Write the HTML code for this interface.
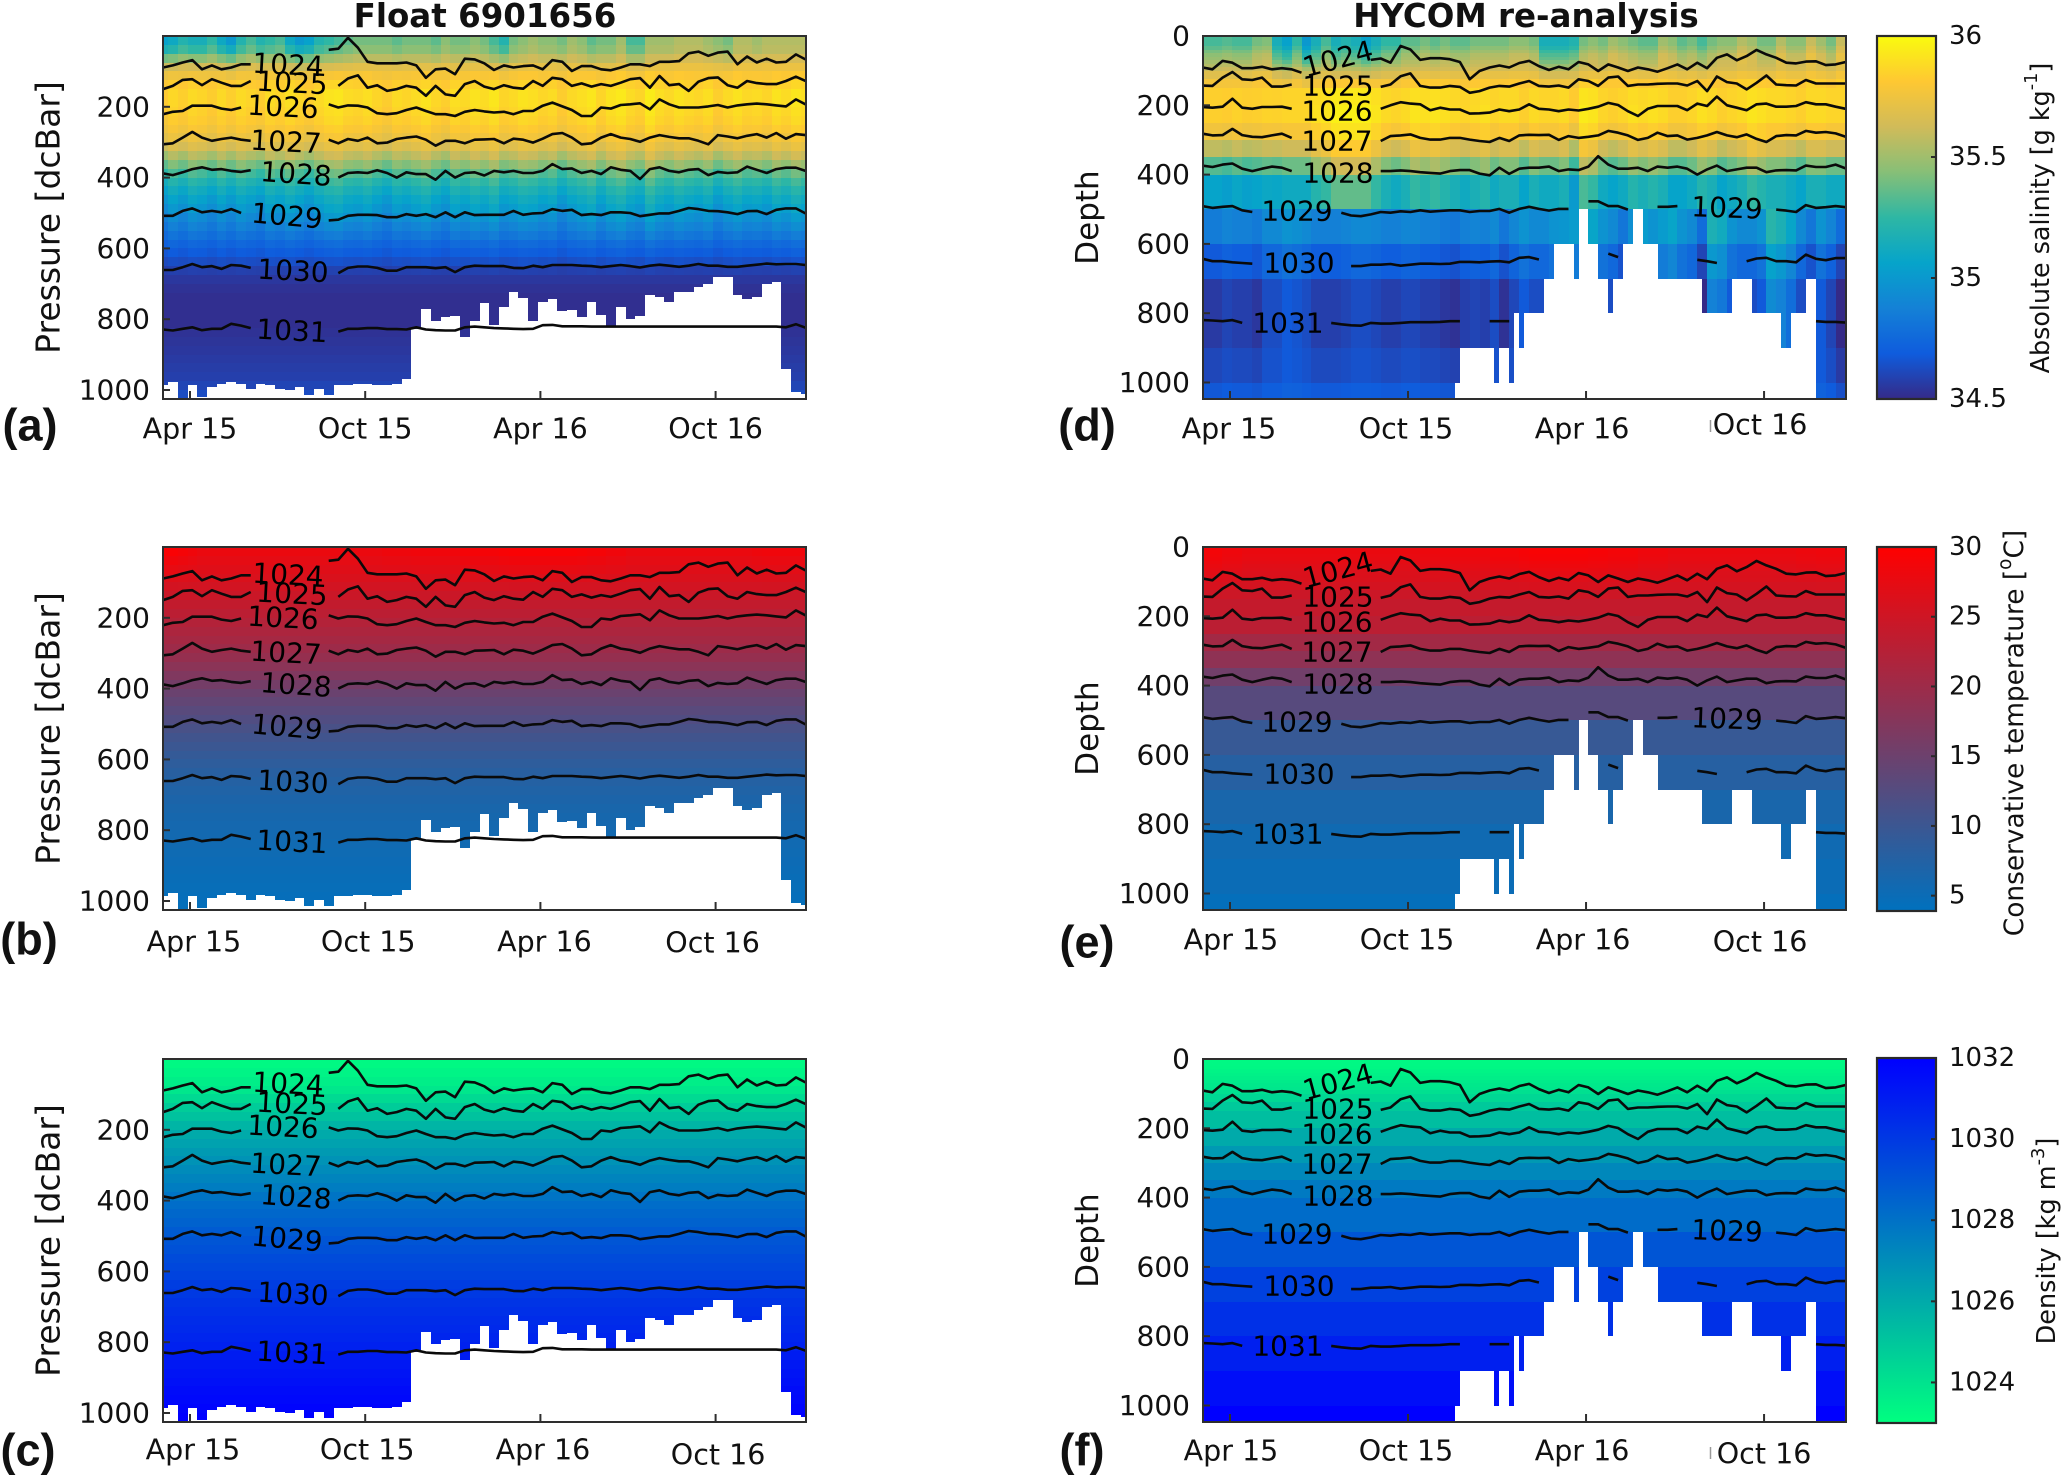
<!DOCTYPE html>
<html lang="en">
<head>
<meta charset="utf-8">
<title>Float 6901656 vs HYCOM re-analysis</title>
<style>
html,body{margin:0;padding:0;background:#fff;width:2067px;height:1475px;overflow:hidden}
svg{display:block}
text{font-family:"DejaVu Sans","Liberation Sans",sans-serif;fill:#111}
.cell{shape-rendering:crispEdges}
.big{font-family:"Liberation Sans","DejaVu Sans",sans-serif;font-weight:bold}
</style>
</head>
<body>
<svg id="fig" xmlns="http://www.w3.org/2000/svg" width="2067" height="1475" viewBox="0 0 2067 1475"></svg>
<script>
const _ = null;

/* ---------- time axis ---------- */
const sampleMonths = [-0.92,-0.59,-0.25,0.08,0.41,0.75,1.08,1.41,1.75,2.08,2.41,2.75,3.08,3.41,3.75,4.08,4.41,4.75,5.08,5.41,5.75,6.08,6.41,6.75,7.08,7.41,7.75,8.08,8.41,8.75,9.08,9.41,9.75,10.08,10.41,10.75,11.08,11.41,11.75,12.08,12.41,12.75,13.08,13.41,13.75,14.08,14.41,14.75,15.08,15.41,15.75,16.08,16.41,16.75,17.08,17.41,17.75,18.08,18.41,18.75,19.08,19.41,19.75,20.08,20.41,20.75,21.08];
const xTickMonths = [0,6,12,18];
const xTickLabels = ["Apr 15","Oct 15","Apr 16","Oct 16"];
const contourLevels = [1024,1025,1026,1027,1028,1029,1030,1031];

/* ---------- isopycnal depths: float (dbar) ---------- */
const floatIso1024 = [89,83,75,68,94,83,94,89,80,80,_,_,_,_,_,_,_,39,36,5,33,73,77,77,77,75,83,118,94,92,108,64,66,77,96,83,89,85,83,94,68,73,99,85,85,94,97,89,80,80,85,73,73,71,49,44,56,47,44,80,58,75,64,75,73,52,66];
const floatIso1025 = [150,141,124,122,139,122,132,141,141,127,_,_,_,_,_,_,_,_,141,120,111,146,139,155,150,141,146,169,141,165,169,136,127,143,150,139,146,149,127,141,118,122,141,134,143,136,141,132,122,119,146,113,139,136,155,129,119,117,139,146,127,133,136,136,127,115,127];
const floatIso1026 = [221,214,212,197,197,197,205,209,202,_,_,_,_,_,_,_,_,193,202,196,197,202,218,221,218,209,202,212,221,221,226,214,209,213,216,214,221,212,212,197,188,199,209,226,226,202,205,195,193,190,207,179,193,202,202,202,199,195,202,196,193,191,193,196,199,179,193];
const floatIso1027 = [306,303,287,271,287,296,291,287,293,296,_,_,_,_,_,_,_,293,303,291,296,287,303,301,291,287,284,293,310,296,296,303,293,292,291,303,290,293,301,290,277,274,287,306,303,287,277,287,291,299,287,280,285,289,289,296,306,280,284,289,282,277,287,274,290,277,280];
const floatIso1028 = [388,393,385,376,371,378,376,381,384,379,_,_,_,_,_,_,_,_,400,387,385,387,379,387,400,385,390,390,406,381,400,387,385,394,381,385,381,387,387,381,362,376,374,387,381,390,371,378,381,404,376,371,381,385,378,376,393,384,387,385,369,378,387,376,372,372,381];
const floatIso1029 = [508,508,494,487,498,494,498,489,500,_,_,_,_,_,_,_,_,521,519,508,505,505,506,512,512,503,508,503,512,498,512,498,506,505,505,505,494,505,501,500,489,494,491,506,503,506,498,498,500,509,505,501,501,494,486,489,494,495,498,503,495,494,503,491,487,487,501];
const floatIso1030 = [661,661,653,644,653,650,658,647,649,655,_,_,_,_,_,_,_,_,670,655,651,651,655,663,663,653,653,653,656,653,667,653,649,650,650,650,655,656,649,653,647,647,647,649,650,653,650,647,650,654,649,646,649,652,649,644,649,649,652,652,649,646,643,645,644,644,647];
const floatIso1031 = [829,832,827,823,831,827,827,813,818,825,_,_,_,_,_,_,_,_,835,827,827,825,825,828,828,829,823,829,831,832,832,823,821,823,825,826,827,828,827,817,816,820,820,820,821,821,821,821,821,821,821,821,821,821,821,821,821,821,821,821,821,821,821,821,823,814,824];
const floatIsopycnals = [floatIso1024,floatIso1025,floatIso1026,floatIso1027,floatIso1028,floatIso1029,floatIso1030,floatIso1031];

/* ---------- isopycnal depths: HYCOM (m) ---------- */
const hycomIso1024 = [91,96,72,77,93,93,89,96,93,96,106,_,_,_,_,_,_,69,65,77,29,39,69,64,64,67,75,125,101,91,85,91,78,72,87,98,89,96,75,82,101,82,91,101,91,96,103,93,82,96,77,93,63,53,70,58,40,53,63,77,79,74,73,84,82,75];
const hycomIso1025 = [143,144,120,104,125,127,120,146,146,140,_,_,_,_,_,_,_,_,147,140,116,108,144,149,149,144,147,164,159,149,144,146,137,130,144,146,143,149,125,130,144,120,117,144,140,140,138,137,137,143,130,159,117,133,137,154,135,114,140,142,143,127,137,137,137,137];
const hycomIso1026 = [205,207,204,181,207,210,205,205,204,210,_,_,_,_,_,_,_,_,210,200,191,195,197,214,207,212,212,224,223,221,212,217,212,197,210,212,217,212,215,210,204,193,199,217,231,210,202,202,202,214,195,202,175,200,207,214,197,195,204,204,202,191,197,197,204,210];
const hycomIso1027 = [282,287,286,268,286,291,292,287,282,294,_,_,_,_,_,_,_,_,303,289,287,284,294,299,299,294,294,299,303,306,294,303,287,285,286,285,300,289,294,291,287,274,279,287,300,294,279,289,287,299,294,287,277,287,292,284,297,306,289,286,287,274,279,277,281,291];
const hycomIso1028 = [374,378,371,368,383,390,383,377,380,390,_,_,_,_,_,_,_,_,390,390,388,390,393,395,397,390,387,387,397,402,380,398,383,380,380,377,390,385,387,377,347,371,383,383,380,390,377,380,377,383,400,385,374,390,385,380,380,393,388,387,388,374,378,378,371,382];
const hycomIso1029 = [491,496,493,491,503,508,_,_,_,_,_,_,_,_,510,518,520,515,508,510,506,508,503,507,505,503,503,508,505,505,499,510,499,493,499,504,499,499,_,477,477,491,491,501,_,_,493,493,491,_,_,_,_,_,_,_,_,_,501,504,508,488,496,494,491,494];
const hycomIso1030 = [643,650,650,653,655,657,_,_,_,_,_,_,_,_,_,664,664,660,660,658,663,660,657,657,658,657,652,652,653,651,650,653,640,638,645,_,_,_,_,_,_,628,638,_,_,_,_,_,_,_,646,650,655,_,_,650,642,640,650,650,653,631,643,647,641,641];
const hycomIso1031 = [820,821,823,820,828,_,_,_,_,_,_,_,_,828,832,835,836,828,830,830,828,826,826,826,825,823,823,_,_,823,823,823,_,_,_,_,_,_,_,_,_,_,_,_,_,_,_,_,_,_,_,_,_,_,_,_,_,_,_,_,_,_,823,825,825,827];
const hycomIsopycnals = [hycomIso1024,hycomIso1025,hycomIso1026,hycomIso1027,hycomIso1028,hycomIso1029,hycomIso1030,hycomIso1031];

/* ---------- float heatmap: vertical profiles ---------- */
const floatDepthLevels = [0,25,50,75,100,125,150,175,200,225,250,275,300,325,350,375,400,425,450,475,500,525,550,575,600,625,650,675,700,725,750,775,800,825,850,875,900,925,950,975,1000,1025];
const floatSalinityProfile = [35.5,35.53,35.62,35.72,35.78,35.82,35.85,35.85,35.83,35.81,35.77,35.72,35.65,35.53,35.4,35.28,35.18,35.1,35.03,34.97,34.91,34.85,34.79,34.73,34.68,34.63,34.58,34.55,34.53,34.52,34.52,34.52,34.52,34.53,34.54,34.55,34.56,34.57,34.58,34.6,34.63,34.67];
const floatTemperatureProfile = [29.5,28.5,27.5,26.5,25.5,24.6,23.8,23,22.2,21.5,20.8,20,19.2,18.1,17,15.8,14.8,13.9,13,12.2,11.4,10.6,9.9,9.2,8.6,8,7.6,7.2,6.8,6.5,6.2,6,5.8,5.6,5.4,5.2,5,4.8,4.7,4.5,4.4,4.3];
const floatDensityProfile = [1023.2,1023.4,1023.6,1023.85,1024.3,1024.8,1025.15,1025.6,1026,1026.3,1026.55,1026.8,1027.1,1027.35,1027.6,1027.9,1028.15,1028.35,1028.55,1028.8,1029,1029.15,1029.35,1029.5,1029.65,1029.85,1030,1030.15,1030.3,1030.45,1030.55,1030.7,1030.85,1031,1031.15,1031.3,1031.45,1031.6,1031.7,1031.85,1032,1032];
const floatUpperWeight = [1,0.8,0.5,0.25,0.1];
const floatMidWeight = [0,0,0,0,0.3,0.4,0.6,0.6,0.6,0.6,0.6,0.6,0.7,0.9,1,1,1,1,1,1,0.9,0.8,0.6,0.4,0.3,0.2,0.1];

/* ---------- float heatmap: per-profile anomalies ---------- */
const floatUpperSalinityAnomaly = [-0.45,-0.4,-0.3,-0.35,-0.35,-0.25,-0.4,-0.5,-0.3,-0.2,-0.3,-0.25,-0.2,-0.4,-0.5,-0.45,-0.3,-0.25,-0.2,-0.15,-0.1,-0.1,-0.1,-0.1,-0.15,-0.1,-0.1,-0.1,-0.15,-0.05,-0.1,-0.1,-0.05,-0.1,-0.2,-0.3,-0.1,-0.05,0,-0.05,-0.05,-0.1,0,-0.05,-0.15,-0.1,-0.1,0,-0.2,-0.2,0,0,0,0.05,0.05,0.05,0,-0.05,-0.1,0.05,0.05,0,0.05,0.05,0.05,0.05,0.05];
const floatMidSalinityAnomaly = [-0.05,0.03,-0.02,0.05,0.02,-0.03,0.04,-0.02,0.05,0.01,-0.03,0.06,0.02,0.08,0.03,-0.02,0.05,0.1,0.12,0.06,0.04,0.08,0.02,-0.03,0.05,0.02,0.06,0.1,0.03,-0.02,0.08,0.04,0.1,0.06,0.12,0.02,0.05,0.1,0.08,0.03,0.06,-0.03,0.04,0.08,0.12,0.02,0.1,0.14,0.06,0.02,0.16,0.08,0.04,0.1,0.06,0.03,0.08,-0.02,0.05,0.1,0.04,0.06,0.02,0.1,0.06,0.12,0.08];
const floatSurfaceTempAnomaly = [0,0,-0.5,-1,-1.5,-1.5,-1.5,-1.5,-1.5,-1.5,-1.5,-1.5,-1.5,-1.5,-1.5,-1.5,-1.5,-1.5,-1.5,-1.5,-1.5,-1.5,-1.5,-1.2,-1.2,-1.2,-1,-1,-1,-1,-1,-0.5,-0.5,-0.5,-0.5,-0.2,0,0,0,0,0,0,0,-0.2,-0.5,-0.5,-1,-1,-1.5,-1.5,-1.5,-1.5,-1.5,-1.5,-1.5,-1.5,-1.5,-1.5,-1.5,-1.5,-1.5,-1.2,-1,-1,-1,-1,-1];
const floatBottomDepth = [987,978,1026,987,1020,992,983,978,983,996,983,987,996,1001,992,1015,996,1015,987,987,983,983,987,987,983,968,827,771,804,794,791,851,804,755,816,766,724,740,804,752,743,776,773,794,752,788,820,766,799,790,733,738,750,724,724,710,700,682,682,733,743,736,700,696,940,1006,1010];

/* ---------- HYCOM heatmap: vertical profiles ---------- */
const hycomDepthLevels = [0,10,20,30,40,50,60,70,80,90,100,125,150,200,250,300,350,400,500,600,700,800,900,1000];
const hycomSalinityProfile = [35.35,35.35,35.35,35.4,35.45,35.5,35.52,35.55,35.58,35.62,35.7,35.78,35.84,35.84,35.76,35.58,35.33,35.06,34.87,34.7,34.58,34.58,34.62,34.68];
const hycomTemperatureProfile = [29.5,29.4,29.2,29,28.6,28.2,27.8,27.4,27,26.6,26,25,24,23,20.5,18.5,15.5,12.8,9.5,7.8,6.5,5.5,5,4.3];
const hycomDensityProfile = [1023.2,1023.25,1023.3,1023.4,1023.5,1023.6,1023.7,1023.8,1023.9,1024.1,1024.4,1024.9,1025.3,1026,1026.6,1027.2,1027.7,1028.2,1029,1029.7,1030.3,1030.9,1031.5,1032];
const hycomUpperWeight = [1,1,1,1,0.9,0.9,0.8,0.7,0.5,0.3,0.3,0.2];
const hycomMidWeight = [0,0,0,0,0,0,0,0,0,0,0,0.2,0.3,0.4,0.5,0.8,1,1];
const hycomDeepWeight = [0,0,0,0,0,0,0,0,0,0,0,0,0,0,0,0,0,0,1,1,1,1,0.6,0.4];

/* ---------- HYCOM heatmap: per-time anomalies ---------- */
const hycomUpperSalinityAnomaly = [-0.05,-0.05,-0.02,-0.05,-0.05,0.05,0.08,-0.2,-0.3,-0.1,-0.35,-0.2,-0.05,-0.2,-0.15,-0.2,-0.3,-0.2,-0.1,-0.1,0,0,0.05,0,0.05,0,0,0.05,0.05,0.05,0.05,0.1,0.1,0.05,-0.2,-0.2,-0.2,-0.15,0.05,0.1,0.05,0.15,0.1,0.05,0,0,0.15,0.1,0,0.05,-0.05,0.05,0.1,0.1,0.2,0.15,0.05,0.05,0.2,0.1,0.1,0.25,0.15,0.05,0.25,0.2];
const hycomMidSalinityAnomaly = [0,0,-0.03,0.02,-0.02,0,0.03,0.02,0.05,0.05,0.05,0.15,0.2,0.3,0.3,0.3,0.3,0.2,0.1,0.05,0.1,0.2,0.15,0.2,0.15,0.1,0.05,0.1,0.15,0.05,0.1,0.1,0,0.1,0.05,0.05,0.1,-0.05,0.25,0.2,0.05,0,0.05,0.15,0.1,0.15,0.1,0,0,0.05,0.15,0.1,0,0.05,0.1,0.2,0.15,0.1,0.1,0.05,0,0.1,0.1,0.05,0.05,0.15];
const hycomDeepSalinityAnomaly = [-0.02,-0.02,0.02,0,0,-0.03,0.05,0.05,0.1,0.08,0.05,0,0,0,0.02,0.05,0.05,0.03,0,0,0.03,0.03,0,0,-0.03,-0.05,0,0.02,0,0.05,-0.05,0.03,0.1,0.05,0.05,0.1,0.12,0.15,0.2,0.2,0.1,0.05,-0.05,0.08,0.15,0.1,0.15,0.2,0.1,0.05,-0.1,0.3,0.25,0.1,0.05,0.05,0.1,0.35,0.3,0.2,0.05,-0.05,0.1,0.02,-0.1,0];
const hycomSurfaceTempAnomaly = [-0.5,-0.5,-1,-1,-1.5,-1.5,-1.5,-1.5,-1.5,-1.5,-1.5,-1.5,-1.5,-1.5,-1.5,-1.5,-1.5,-1.5,-1.5,-1.5,-1.5,-1.5,-1.2,-1.2,-1,-1,-1,-1,-1,-0.5,-0.5,-0.5,-0.2,0,0,0,0,0,0,-0.2,-0.2,-0.5,-0.5,-0.5,-1,-1,-1,-1.5,-1.5,-1.5,-1.5,-1.5,-1.5,-1.5,-1.5,-1.5,-1.5,-1.5,-1.5,-1.5,-1.2,-1.2,-1,-1,-1,-1];
const hycomBottomDepth = [1050,1050,1050,1050,1050,1050,1050,1050,1050,1050,1050,1050,1050,1050,1050,1050,1050,1050,1050,1050,1050,1050,1050,1050,1050,1050,1050,1050,1050,1050,1050,1050,1050,1050,1050,1050,1050,1050,1050,1050,1050,1050,1050,1050,1050,1050,1050,1050,1050,1050,1050,1000,900,900,900,900,900,900,900,1000,900,900,1000,800,900,800,800,800,800,700,700,600,600,600,600,700,500,500,600,600,700,700,800,700,700,600,600,500,500,600,600,600,700,700,700,700,700,700,700,700,700,800,800,800,800,800,800,700,700,700,700,800,800,800,800,800,800,900,900,800,800,800,700,700,1050,1050,1050,1050,1050,1050,1050];

/* ---------- colour scales ---------- */
const parulaStops = ["#352a87","#0f5cdd","#1481d6","#06a4ca","#2eb7a4","#87bf77","#d1bb59","#fec832","#f9fb0e"];
const temperatureStops = ["#0071be","#ff0000"];
const densityStops = ["#00ff80","#0000ff"];
const salinityTicks = [34.5,35,35.5,36];
const salinityTickLabels = ["34.5","35","35.5","36"];
const temperatureTicks = [5,10,15,20,25,30];
const temperatureTickLabels = ["5","10","15","20","25","30"];
const densityTicks = [1024,1026,1028,1030,1032];
const densityTickLabels = ["1024","1026","1028","1030","1032"];

/* ---------- axis ticks ---------- */
const floatYTicks = [200,400,600,800,1000];
const hycomYTicks = [0,200,400,600,800,1000];

/* ---------- layout ---------- */
const svg = document.getElementById('fig');
const NS = 'http://www.w3.org/2000/svg';
function mk(tag, attrs, parent, txt){
  const e = document.createElementNS(NS, tag);
  for (const k in attrs) e.setAttribute(k, attrs[k]);
  if (txt !== undefined) e.textContent = txt;
  (parent || svg).appendChild(e);
  return e;
}
function xFloat(m){ return 190 + 29.2*m; }
function xHycom(m){ return 1230 + 29.67*m; }
function hex(c){ return [parseInt(c.slice(1,3),16),parseInt(c.slice(3,5),16),parseInt(c.slice(5,7),16)]; }
function colorFrom(stops, lo, hi, v){
  let t = (v-lo)/(hi-lo); t = Math.max(0,Math.min(1,t));
  const p = t*(stops.length-1), i = Math.min(stops.length-2,Math.floor(p)), f = p-i;
  const a = hex(stops[i]), b = hex(stops[i+1]);
  return 'rgb('+Math.round(a[0]+(b[0]-a[0])*f)+','+Math.round(a[1]+(b[1]-a[1])*f)+','+Math.round(a[2]+(b[2]-a[2])*f)+')';
}
const scales = {
  salinity:{stops:parulaStops,lo:34.5,hi:36},
  temperature:{stops:temperatureStops,lo:3.9,hi:30},
  density:{stops:densityStops,lo:1023,hi:1032}
};
function floatValue(field,i,k){
  if(field==='salinity') return floatSalinityProfile[i]+floatUpperSalinityAnomaly[k]*(floatUpperWeight[i]||0)+floatMidSalinityAnomaly[k]*(floatMidWeight[i]||0);
  if(field==='temperature') return floatTemperatureProfile[i]+floatSurfaceTempAnomaly[k]*(floatUpperWeight[i]||0);
  return floatDensityProfile[i];
}
function hycomValue(field,i,k){
  if(field==='salinity') return hycomSalinityProfile[i]+hycomUpperSalinityAnomaly[k]*(hycomUpperWeight[i]||0)+hycomMidSalinityAnomaly[k]*(hycomMidWeight[i]||0)+hycomDeepSalinityAnomaly[k]*(hycomDeepWeight[i]||0);
  if(field==='temperature') return hycomTemperatureProfile[i]+hycomSurfaceTempAnomaly[k]*(hycomUpperWeight[i]||0);
  return hycomDensityProfile[i];
}

const panels = [
 {id:'a',src:'float',field:'salinity',top:36,bottom:399,tag:[30,425],tl:[[0,429],[0,429],[0,429],[0,429]],labelDy:[0,0,0,0,0,0,0,0]},
 {id:'b',src:'float',field:'temperature',top:547,bottom:910,tag:[29,939],tl:[[4,942],[3,942],[4,942],[-3,943]],labelDy:[-1,0,0,0,0,0,0,0]},
 {id:'c',src:'float',field:'density',top:1059,bottom:1422,tag:[28,1450],tl:[[3,1450],[2,1450],[2.5,1450],[2.5,1455]],labelDy:[-4,-2,-3,0,0,0,0,-1]},
 {id:'d',src:'hycom',field:'salinity',top:36,bottom:399,tag:[1087,425],tl:[[-1,429],[-2,429],[-4,429],[-4,425]],labelDy:[0,0,0,0,0,0,0,0]},
 {id:'e',src:'hycom',field:'temperature',top:547,bottom:910,tag:[1087,942],tl:[[1,940],[-1,940],[-3,940],[-4,942]],labelDy:[0,0,0,0,0,0,0,0]},
 {id:'f',src:'hycom',field:'density',top:1059,bottom:1422,tag:[1082,1450],tl:[[1,1451],[-2,1451],[-4,1451],[0,1454]],labelDy:[0,0,0,0,0,0,0,0]}
];
const floatLabelPlaces = [[288,29,3],[292,47,3],[283,71,3],[286,106,3],[296,138,4],[287,180,5],[293,235,3],[292,295,3]];
const hycomLabelPlaces = [[1338,23,-15],[1338,50,0],[1337,75,0],[1337,105,0],[1338,137,0],[1297,175,0],[1299,227,0],[1288,287,0]];

const defs = mk('defs',{});

panels.forEach(function(p){
  const isFloat = p.src==='float';
  const left = isFloat ? 163 : 1203;
  const right = isFloat ? 806 : 1846;
  const xf = isFloat ? xFloat : xHycom;
  const yScale = isFloat ? 0.354 : 0.3465;
  const yf = function(d){ return p.top + d*yScale; };
  const axisMax = (p.bottom-p.top)/yScale;
  const sc = scales[p.field];

  const group = mk('g',{});
  
  

  const clip = mk('clipPath',{id:'clip-'+p.id},defs);
  mk('rect',{x:left,y:p.top,width:right-left,height:p.bottom-p.top},clip);

  const heat = mk('g',{'clip-path':'url(#clip-'+p.id+')'},group);
  
  

  const levels = isFloat ? floatDepthLevels : hycomDepthLevels;
  const bottoms = isFloat ? floatBottomDepth : hycomBottomDepth;
  const s = sampleMonths;
  bottoms.forEach(function(bd,c){
    let m0, m1, k;
    if(isFloat){
      m0 = c>0 ? (s[c-1]+s[c])/2 : s[c]-1/6;
      m1 = c<s.length-1 ? (s[c]+s[c+1])/2 : s[c]+1/6;
      k = c;
    } else {
      m0 = s[0]+c/6; m1 = s[0]+(c+1)/6; k = Math.min(65,Math.floor(c/2));
    }
    const x0 = Math.round(xf(m0)), x1 = Math.round(xf(m1));
    for(let i=0;i<levels.length;i++){
      if(levels[i]>=bd) break;
      const d1 = Math.min(i+1<levels.length?levels[i+1]:axisMax+5,bd);
      const y0 = Math.round(yf(levels[i])), y1 = Math.round(yf(d1));
      const v = isFloat ? floatValue(p.field,i,k) : hycomValue(p.field,i,k);
      const r = mk('rect',{class:'cell',x:x0,y:y0,width:x1-x0,height:y1-y0,fill:colorFrom(sc.stops,sc.lo,sc.hi,v)},heat);
      
      
    }
  });

  const isos = isFloat ? floatIsopycnals : hycomIsopycnals;
  const lines = mk('g',{'clip-path':'url(#clip-'+p.id+')',fill:'none',stroke:'#0a0a0a','stroke-width':2.6,'stroke-linejoin':'round'},group);
  isos.forEach(function(series,j){
    let seg = [];
    const flush = function(){
      if(seg.length>1){
        const l = mk('polyline',{points:seg.join(' ')},lines);
        
        
      }
      seg = [];
    };
    series.forEach(function(d,k){
      if(d===null){ flush(); return; }
      seg.push(xf(sampleMonths[k]).toFixed(1)+','+yf(d).toFixed(1));
    });
    flush();
  });

  const places = isFloat ? floatLabelPlaces : hycomLabelPlaces;
  contourLevels.forEach(function(lv,j){
    const pl = places[j];
    const cy = p.top+pl[1]+p.labelDy[j];
    const t = mk('text',{x:pl[0],y:cy,'font-size':28,'text-anchor':'middle','dominant-baseline':'central',style:'fill:#000',transform:'rotate('+pl[2]+' '+pl[0]+' '+cy+')'},group,String(lv));
    
    
  });
  if(!isFloat){
    const cy = p.top+172;
    const t2 = mk('text',{x:1727,y:cy,'font-size':28,'text-anchor':'middle','dominant-baseline':'central',style:'fill:#000',transform:'rotate(2 1727 '+cy+')'},group,String(contourLevels[5]));
    
    
  }

  const frame = mk('rect',{x:left,y:p.top,width:right-left,height:p.bottom-p.top,fill:'none',stroke:'#2e2e2e','stroke-width':2},group);
  
  

  xTickMonths.forEach(function(m,j){
    const tx = xf(m);
    const tk = mk('line',{x1:tx,x2:tx,y1:p.bottom,y2:p.bottom-8,stroke:'#2e2e2e','stroke-width':2},group);
    
    
    const n = p.tl[j];
    const lb = mk('text',{x:tx+n[0],y:n[1],'font-size':28.5,'text-anchor':'middle','dominant-baseline':'central'},group,xTickLabels[j]);
    
    
  });

  const yTicks = isFloat ? floatYTicks : hycomYTicks;
  yTicks.forEach(function(d){
    const ty = yf(d);
    const tk = mk('line',{x1:left,x2:left+7,y1:ty,y2:ty,stroke:'#2e2e2e','stroke-width':2},group);
    
    
    const lb = mk('text',{x:left-13,y:ty,'font-size':28,'text-anchor':'end','dominant-baseline':'central'},group,String(d));
    
    
  });

  const midY = (p.top+p.bottom)/2;
  const yx = isFloat ? 48 : 1088;
  const yt = mk('text',{x:yx,y:midY,'font-size':isFloat?33:31,'text-anchor':'middle','dominant-baseline':'central',transform:'rotate(-90 '+yx+' '+midY+')'},group,isFloat?'Pressure [dcBar]':'Depth');
  
  

  const tag = mk('text',{class:'big',x:p.tag[0],y:p.tag[1],'font-size':45,'text-anchor':'middle','dominant-baseline':'central'},group,'('+p.id+')');
  
  
});

/* titles */
const t1 = mk('text',{x:485,y:16,'font-size':32.5,'font-weight':'bold','text-anchor':'middle','dominant-baseline':'central'},svg,'Float 6901656');


const t2 = mk('text',{x:1526,y:16,'font-size':32.5,'font-weight':'bold','text-anchor':'middle','dominant-baseline':'central'},svg,'HYCOM re-analysis');



/* stray tick marks left of the Oct 16 labels */
const s1 = mk('line',{x1:1710.5,x2:1710.5,y1:420,y2:432,stroke:'#999','stroke-width':1.5});


const s2 = mk('line',{x1:1710.5,x2:1710.5,y1:1447,y2:1459,stroke:'#999','stroke-width':1.5});



/* colour bars */
const bars = [
 {id:'salinity',top:36,bottom:399,key:'salinity',lo:34.5,hi:36,ticks:salinityTicks,labels:salinityTickLabels,tx:2040,ty:218,size:25.4,main:'Absolute salinity [g kg',sup:'-1',end:']'},
 {id:'temperature',top:547,bottom:911,key:'temperature',lo:3.9,hi:30,ticks:temperatureTicks,labels:temperatureTickLabels,tx:2014,ty:733,size:26.4,main:'Conservative temperature [',sup:'o',end:'C]'},
 {id:'density',top:1058,bottom:1423,key:'density',lo:1023,hi:1032,ticks:densityTicks,labels:densityTickLabels,tx:2047,ty:1241,size:25.5,main:'Density [kg m',sup:'-3',end:']'}
];
bars.forEach(function(b){
  const g = mk('g',{});
  
  
  const sc = scales[b.key];
  const grad = mk('linearGradient',{id:'grad-'+b.id,x1:0,y1:1,x2:0,y2:0},defs);
  sc.stops.forEach(function(c,i){ mk('stop',{offset:i/(sc.stops.length-1),'stop-color':c},grad); });
  const r = mk('rect',{x:1877,y:b.top,width:59,height:b.bottom-b.top,fill:'url(#grad-'+b.id+')',stroke:'#2a2a2a','stroke-width':2.2},g);
  
  
  const cy = function(v){ return b.bottom-(v-b.lo)/(b.hi-b.lo)*(b.bottom-b.top); };
  b.ticks.forEach(function(v,i){
    const tk = mk('line',{x1:1936,x2:1931,y1:cy(v),y2:cy(v),stroke:'#2a2a2a','stroke-width':2},g);
    
    
    const lb = mk('text',{x:1949,y:cy(v),'font-size':26,'dominant-baseline':'central'},g,b.labels[i]);
    
    
  });
  const tt = mk('text',{x:b.tx,y:b.ty,'font-size':b.size,'text-anchor':'middle','dominant-baseline':'central',transform:'rotate(-90 '+b.tx+' '+b.ty+')'},g);
  
  
  mk('tspan',{},tt,b.main);
  mk('tspan',{dy:-9,'font-size':b.size*0.7},tt,b.sup);
  mk('tspan',{dy:9},tt,b.end);
});
</script>
</body>
</html>
